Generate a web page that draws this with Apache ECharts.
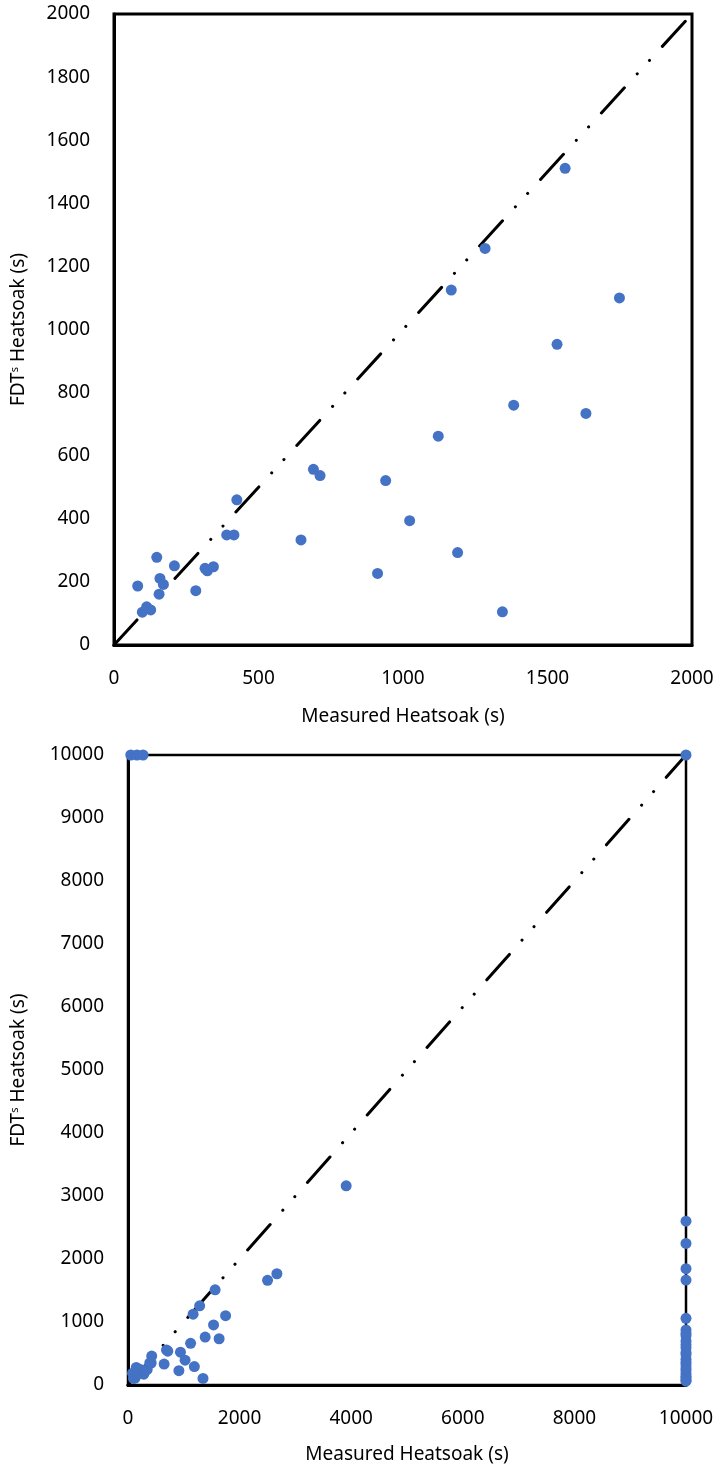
<!DOCTYPE html>
<html>
<head>
<meta charset="utf-8">
<script src="https://cdn.jsdelivr.net/npm/echarts@6/dist/echarts.min.js"></script>
<style>
  html, body { margin: 0; padding: 0; background: #fff; }
  #chart { width: 718px; height: 1468px; }
</style>
</head>
<body>
<div id="chart"></div>
<script>
// points inside 0..2000 on both axes
const measured = [82, 98, 113, 127, 148, 156, 159, 171, 209, 283, 315, 323, 344, 390, 415, 425,
  647, 690, 713, 912, 940, 1023, 1122, 1167, 1189, 1284, 1344, 1383, 1533, 1561, 1633, 1749]
const fdt = [187, 104, 121, 111, 278, 161, 211, 192, 251, 172, 243, 235, 248, 349, 349, 460,
  333, 557, 537, 227, 521, 394, 662, 1125, 293, 1257, 105, 760, 953, 1511, 734, 1100]

// only in the wide view
const measuredHigh = [2501, 2668, 3910]
const fdtHigh = [1661, 1766, 3162]

// FDT capped at 10000
const capMeasured = [50, 160, 270, 10000]
// measured capped at 10000
const capFdt = [2600, 2248, 1846, 1666, 1058, 873, 820, 780, 700, 640, 590, 520, 480, 410,
  360, 320, 270, 230, 180, 140, 110, 80, 60]

const ticksTop = [0, 500, 1000, 1500, 2000]
const ticksBottom = [0, 2000, 4000, 6000, 8000, 10000]

const blue = '#4472C4'
const font = 'Noto Sans'

const topPts = measured.map((m, i) => [m, fdt[i]])
const bottomPts = topPts
  .concat(measuredHigh.map((m, i) => [m, fdtHigh[i]]))
  .concat(capMeasured.map(m => [m, 10000]))
  .concat(capFdt.map(f => [10000, f]))

const axisLabel = { color: '#000', fontFamily: font, fontSize: 19 }
const nameStyle = { color: '#000', fontFamily: font, fontSize: 19 }
const yName = {
  name: 'FDT{sup|s} Heatsoak (s)',
  nameLocation: 'middle',
  nameRotate: 90,
  nameTextStyle: Object.assign({}, nameStyle, {
    rich: { sup: { fontFamily: font, fontSize: 11, verticalAlign: 'top', color: '#000', padding: [0, 0, 8, 0] } }
  })
}

const diag = {
  color: '#000',
  width: 3,
  type: [34, 19, 0.1, 18, 0.1, 19],
  cap: 'round'
}

const option = {
  animation: false,
  grid: [
    { left: 114, top: 14, width: 578, height: 631, show: true, borderColor: '#000', borderWidth: 3 },
    { left: 128, top: 755, width: 558, height: 630, show: true, borderColor: '#000', borderWidth: 2.5 }
  ],
  xAxis: [
    {
      gridIndex: 0, type: 'value', min: 0, max: 2000, interval: 500,
      name: 'Measured Heatsoak (s)', nameLocation: 'middle', nameGap: 62, nameTextStyle: nameStyle,
      axisLine: { lineStyle: { color: '#000', width: 3 } },
      axisTick: { show: false }, splitLine: { show: false },
      axisLabel: Object.assign({ margin: 24, formatter: v => ticksTop.includes(v) ? String(v) : '' }, axisLabel)
    },
    {
      gridIndex: 1, type: 'value', min: 0, max: 10000, interval: 2000,
      name: 'Measured Heatsoak (s)', nameLocation: 'middle', nameGap: 60, nameTextStyle: nameStyle,
      axisLine: { lineStyle: { color: '#000', width: 3 } },
      axisTick: { show: false }, splitLine: { show: false },
      axisLabel: Object.assign({ margin: 24, formatter: v => ticksBottom.includes(v) ? String(v) : '' }, axisLabel)
    }
  ],
  yAxis: [
    Object.assign({
      gridIndex: 0, type: 'value', min: 0, max: 2000, interval: 200, nameGap: 86,
      axisLine: { lineStyle: { color: '#000', width: 3 } },
      axisTick: { show: false }, splitLine: { show: false },
      axisLabel: Object.assign({ margin: 24, formatter: v => String(v) }, axisLabel)
    }, yName),
    Object.assign({
      gridIndex: 1, type: 'value', min: 0, max: 10000, interval: 1000, nameGap: 100,
      axisLine: { lineStyle: { color: '#000', width: 3 } },
      axisTick: { show: false }, splitLine: { show: false },
      axisLabel: Object.assign({ margin: 24, formatter: v => String(v) }, axisLabel)
    }, yName)
  ],
  series: [
    {
      type: 'line', xAxisIndex: 0, yAxisIndex: 0, z: 1,
      data: [[0, 0], [2000, 2000]], symbol: 'none', lineStyle: diag
    },
    {
      type: 'scatter', xAxisIndex: 0, yAxisIndex: 0, z: 3, clip: false,
      data: topPts, symbolSize: 11, itemStyle: { color: blue, opacity: 1 }
    },
    {
      type: 'line', xAxisIndex: 1, yAxisIndex: 1, z: 1,
      data: [[0, 0], [10000, 10000]], symbol: 'none', lineStyle: diag
    },
    {
      type: 'scatter', xAxisIndex: 1, yAxisIndex: 1, z: 3, clip: false,
      data: bottomPts, symbolSize: 11, itemStyle: { color: blue, opacity: 1 }
    }
  ]
}

const myChart = echarts.init(document.getElementById('chart'))
option && myChart.setOption(option)
</script>
</body>
</html>
